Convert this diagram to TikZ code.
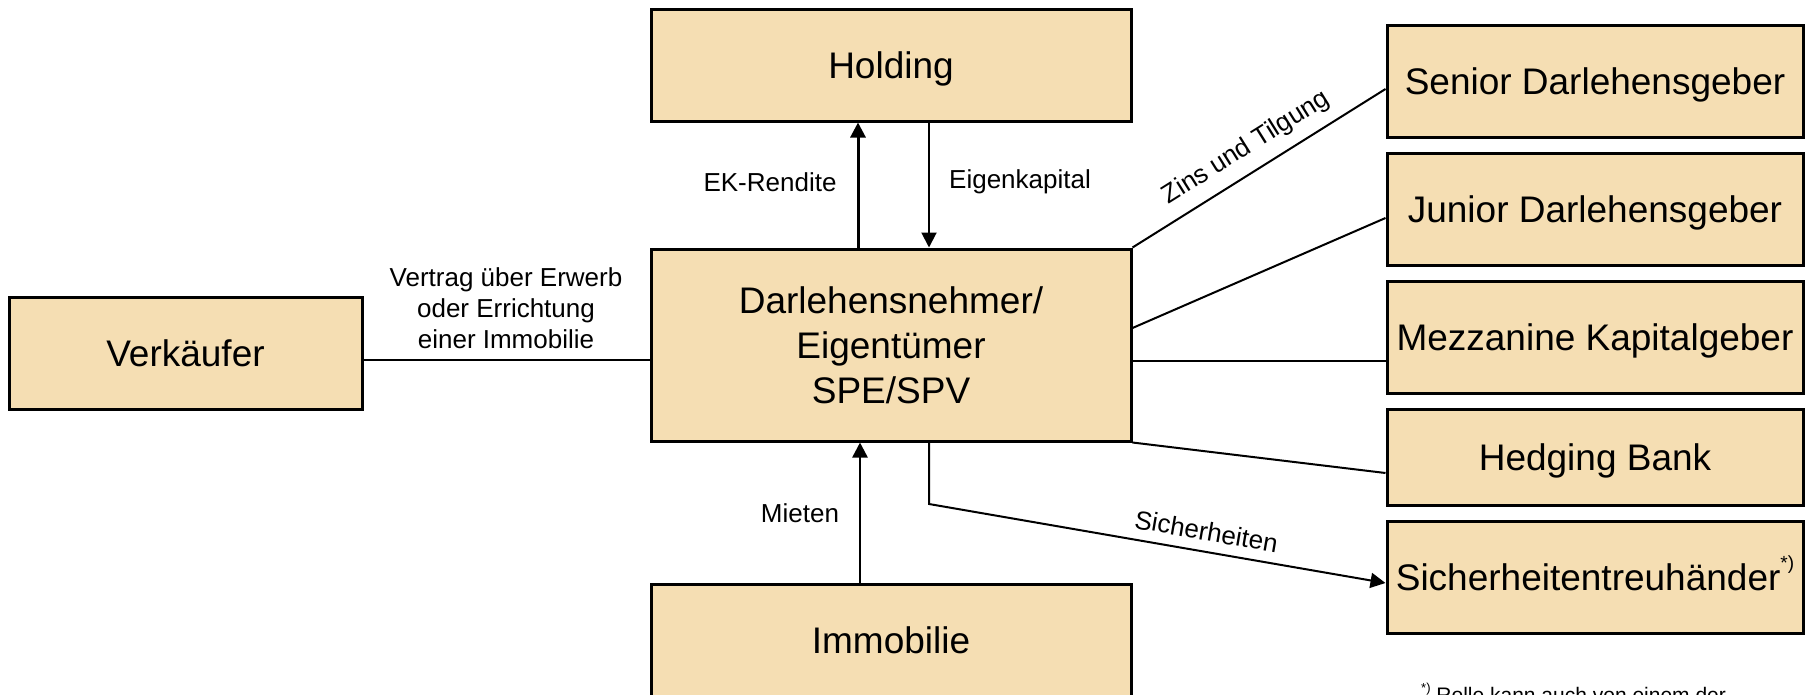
\documentclass[tikz,border=0pt]{standalone}
\usepackage{fontspec}
\setmainfont{Liberation Sans}
\usetikzlibrary{arrows.meta}
\definecolor{boxfill}{RGB}{245,222,179}
\begin{document}
\begin{tikzpicture}[x=1pt,y=-1pt,
  box/.style={draw=black, line width=3pt, fill=boxfill, inner sep=0pt, minimum height=112pt, align=center, font=\fontsize{37}{45}\selectfont, text height=26.5pt, text depth=0pt},
  conn/.style={line width=2pt},
  lbl/.style={font=\fontsize{26}{31}\selectfont, inner sep=2pt, align=center},
  tip/.style={-{Triangle[length=15pt,width=15pt]}}]
\useasboundingbox (0,0) rectangle (1810,694);
% boxes
\node[box, minimum width=480pt] (holding) at (891,65) {Holding};
\node[box, minimum width=480pt, minimum height=192pt, text height={}, text depth={}] (main) at (891,345) {Darlehensnehmer/\\Eigentümer\\SPE/SPV};
\node[box, minimum width=480pt] (immo) at (891,640) {Immobilie};
\node[box, minimum width=353pt] (verk) at (185.5,353) {Verkäufer};
\node[box, minimum width=416pt] (senior) at (1595,81) {Senior Darlehensgeber};
\node[box, minimum width=416pt] (junior) at (1595,209) {Junior Darlehensgeber};
\node[box, minimum width=416pt] (mezz) at (1595,337) {Mezzanine Kapitalgeber};
\node[box, minimum width=416pt, minimum height=96pt] (hedge) at (1595,457) {Hedging Bank};
\node[box, minimum width=416pt] (sich) at (1595,577) {Sicherheitentreuhänder\raisebox{0.55em}{\fontsize{19}{19}\selectfont *)}};
% connectors
\draw[conn, line width=3pt, tip] ([xshift=-33pt]main.north) -- ([xshift=-33pt]holding.south);
\draw[conn, tip] ([xshift=38pt]holding.south) -- ([xshift=38pt]main.north);
\draw[conn, line width=2.5pt, tip] ([xshift=-31pt]immo.north) -- ([xshift=-31pt]main.south);
\coordinate (v1) at ([yshift=-7pt]verk.east);
\draw[conn] (v1) -- (v1 -| main.west);
\draw[conn] (main.north east) -- node[sloped, above, lbl, inner sep=11pt] (zt) {Zins und Tilgung} ([yshift=-8pt]senior.west);
\draw[conn] ([yshift=17pt]main.east) -- ([yshift=-9pt]junior.west);
\coordinate (m1) at ([yshift=-16pt]main.east);
\draw[conn] (m1) -- (m1 -| mezz.west);
\draw[conn] (main.south east) -- ([yshift=-16pt]hedge.west);
\coordinate (s0) at ([xshift=38pt]main.south);
\coordinate (s1) at ([xshift=38pt]main.south |- 0,504);
\draw[conn, tip] (s0) -- (s1) -- node[pos=0.6, sloped, above, lbl, inner sep=10pt] (sh) {Sicherheiten} ([yshift=-6pt]sich.west);
% labels
\node[lbl] (ek) at (770,182) {EK-Rendite};
\node[lbl] (eig) at (1020,182) {Eigenkapital};
\node[lbl] (mieten) at (800,513) {Mieten};
\node[lbl] (vertrag) at (506,308) {Vertrag über Erwerb\\oder Errichtung\\einer Immobilie};
\node[anchor=base west, inner sep=0pt, font=\fontsize{21}{25}\selectfont] (fn) at (1421,702) {\raisebox{0.45em}{\fontsize{13}{13}\selectfont *)} Rolle kann auch von einem der};
\end{tikzpicture}
\end{document}
